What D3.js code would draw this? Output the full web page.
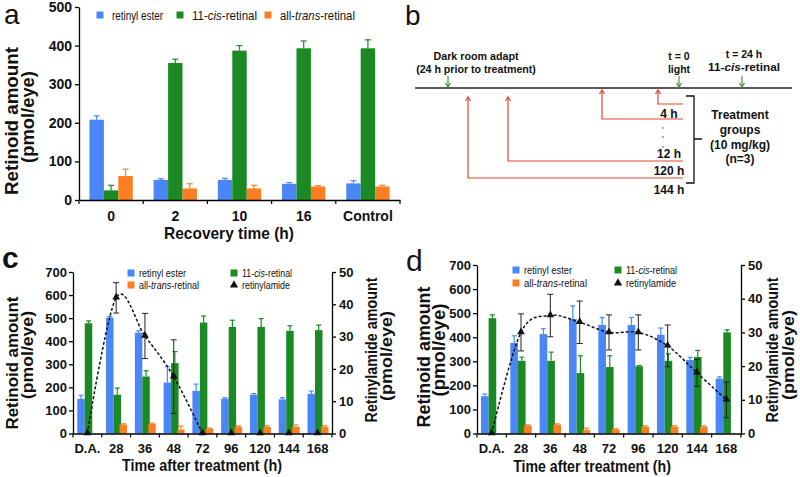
<!DOCTYPE html>
<html>
<head>
<meta charset="utf-8">
<script src="https://cdn.jsdelivr.net/npm/d3@7"></script>
<style>
body { margin: 0; background: #fff; }
svg { display: block; font-family: "Liberation Sans", Arial, Helvetica, sans-serif; }
</style>
</head>
<body>
<script>
const width = 800;
const height = 477;

const blue = "#4a86f5";
const green = "#1c8a24";
const orange = "#fb7f22";

// panel a : recovery data
const recoveryCats = ["0", "2", "10", "16", "Control"];
const esterA = [208, 52, 52, 42, 43];
const esterAErr = [10, 3, 4, 3, 7];
const cisA = [25, 355, 387, 393, 393];
const cisAErr = [13, 10, 13, 19, 22];
const transA = [62, 30, 30, 35, 35];
const transAErr = [18, 12, 8, 2, 3];

// panels c and d : time after treatment
const timeCats = ["D.A.", "28", "36", "48", "72", "96", "120", "144", "168"];
const esterC = [150, 502, 437, 221, 185, 151, 168, 148, 172];
const esterCErr = [16, 5, 8, 69, 29, 4, 5, 7, 12];
const cisC = [478, 168, 247, 305, 481, 462, 462, 445, 448];
const cisCErr = [10, 29, 25, 50, 28, 29, 36, 22, 22];
const transC = [0, 39, 42, 17, 21, 29, 29, 29, 29];
const transCErr = [0, 3, 3, 15, 3, 4, 5, 8, 5];
const amideC = [0, 42, 30.2, 17.6, 0, 0, 0, 0, 0];
const amideCErr = [0, 4.7, 7, 11.4, 0, 0, 0, 0, 0];

const esterD = [155, 376, 413, 476, 451, 451, 410, 306, 228];
const esterDErr = [9, 30, 22, 54, 31, 31, 28, 10, 7];
const cisD = [479, 302, 302, 251, 276, 279, 302, 318, 420];
const cisDErr = [14, 15, 36, 72, 47, 3, 29, 27, 11];
const transD = [0, 33, 37, 14, 17, 28, 28, 28, 0];
const transDErr = [0, 3, 3, 8, 3, 4, 4, 4, 0];
const amideD = [0, 30, 35, 33, 30, 30, 26, 18, 10];
const amideDErr = [0, 5.5, 6.3, 6.3, 5.2, 5.2, 6.2, 4, 5.3];

// panel b : schematic
const treatHours = [4, 12, 120, 144];
const treatLabels = ["4 h", "12 h", "120 h", "144 h"];

const svg = d3.select("body").append("svg")
    .attr("width", width)
    .attr("height", height);

// text helper, "|" toggles italic; len squeezes the text along its direction
function txt(g, s, x, y, o = {}) {
    const t = g.append("text")
        .attr("x", 0).attr("y", 0)
        .attr("font-size", o.size || 12)
        .attr("font-weight", o.bold ? "bold" : "normal")
        .attr("text-anchor", o.anchor || "start")
        .attr("fill", "#111");
    s.split("|").forEach((p, i) => {
        if (p) t.append("tspan").text(p).attr("font-style", i % 2 ? "italic" : null);
    });
    let k = 1;
    if (o.len) k = o.len / t.node().getComputedTextLength();
    t.attr("transform", `translate(${x},${y})${o.rot ? " rotate(-90)" : ""} scale(${k.toFixed(3)},1)`);
    return t;
}

function barPanel(o) {
    const g = svg.append("g");
    const x = d3.scaleBand().domain(o.cats).range([o.left, o.right]);
    const y = d3.scaleLinear().domain([0, o.yMax]).range([o.bottom, o.top]);
    const bw = x.bandwidth();
    const w = bw * o.barFrac;

    o.series.forEach(s => {
        const cx = (d, i) => x(o.cats[i]) + bw / 2 + s.off * w;
        g.selectAll(null).data(s.vals).enter().append("rect")
            .attr("x", cx)
            .attr("y", d => y(d))
            .attr("width", w)
            .attr("height", d => y(0) - y(d))
            .attr("fill", s.color);
        // upward error bars
        s.vals.forEach((v, i) => {
            if (!s.errs[i]) return;
            const xm = cx(v, i) + w / 2;
            g.append("line").attr("x1", xm).attr("x2", xm)
                .attr("y1", y(v)).attr("y2", y(v + s.errs[i]))
                .attr("stroke", s.color).attr("stroke-width", 1.2);
            g.append("line").attr("x1", xm - o.cap).attr("x2", xm + o.cap)
                .attr("y1", y(v + s.errs[i])).attr("y2", y(v + s.errs[i]))
                .attr("stroke", s.color).attr("stroke-width", 1.2);
        });
    });

    // left axis
    const ya = g.append("g").attr("transform", `translate(${o.left},0)`)
        .call(d3.axisLeft(y).tickValues(d3.range(0, o.yMax + 1, o.step))
            .tickSize(4).tickSizeOuter(0).tickPadding(o.yPad));
    // bottom axis
    const xa = g.append("g").attr("transform", `translate(0,${o.bottom})`)
        .call(d3.axisBottom(x).tickSize(0).tickSizeOuter(0).tickPadding(o.xPad));
    d3.range(o.cats.length + 1).forEach(i => {
        const xx = o.left + i * x.step();
        g.append("line").attr("x1", xx).attr("x2", xx)
            .attr("y1", o.bottom).attr("y2", o.bottom + 4)
            .attr("stroke", "#000").attr("stroke-width", 1.2);
    });
    [ya, xa].forEach(a => {
        a.selectAll("path, line").attr("stroke", "#000").attr("stroke-width", 1.3);
        a.selectAll("text").attr("font-size", o.tickSize).attr("font-weight", "bold")
            .attr("font-family", null).attr("fill", "#111");
    });

    if (o.amide) {
        const y2 = d3.scaleLinear().domain([0, 50]).range([o.bottom, o.top]);
        const ra = g.append("g").attr("transform", `translate(${o.right},0)`)
            .call(d3.axisRight(y2).tickValues(d3.range(0, 51, 10))
                .tickSize(4).tickSizeOuter(0).tickPadding(3));
        ra.selectAll("path, line").attr("stroke", "#000").attr("stroke-width", 1.3);
        ra.selectAll("text").attr("font-size", o.tickSize).attr("font-weight", "bold")
            .attr("font-family", null).attr("fill", "#111");

        const pts = o.amide.map((v, i) => [x(o.cats[i]) + bw / 2, y2(v)]);
        const n = o.lineTo || pts.length;
        g.append("path")
            .attr("d", d3.line().curve(d3.curveCardinal.tension(0))(pts.slice(0, n)))
            .attr("fill", "none").attr("stroke", "#111")
            .attr("stroke-width", 1.5).attr("stroke-dasharray", "3,2");
        o.amide.forEach((v, i) => {
            const e = o.amideErr[i];
            if (!e) return;
            const xm = pts[i][0];
            g.append("line").attr("x1", xm).attr("x2", xm)
                .attr("y1", y2(v - e)).attr("y2", y2(v + e))
                .attr("stroke", "#222").attr("stroke-width", 1);
            [v - e, v + e].forEach(t => {
                g.append("line").attr("x1", xm - 3).attr("x2", xm + 3)
                    .attr("y1", y2(t)).attr("y2", y2(t))
                    .attr("stroke", "#222").attr("stroke-width", 1);
            });
        });
        g.selectAll(null).data(pts).enter().append("path")
            .attr("d", d3.symbol(d3.symbolTriangle, 26))
            .attr("transform", d => `translate(${d[0]},${d[1] - 0.5})`)
            .attr("fill", "#111");
    }
    return g;
}

// ---------- panel a ----------
const ga = barPanel({
    cats: recoveryCats, left: 79, right: 400, top: 7, bottom: 200,
    yMax: 500, step: 100, barFrac: 0.225, cap: 3, yPad: 3, xPad: 11, tickSize: 14,
    series: [
        { vals: esterA, errs: esterAErr, color: blue, off: -1.5 },
        { vals: cisA, errs: cisAErr, color: green, off: -0.5 },
        { vals: transA, errs: transAErr, color: orange, off: 0.5 }
    ]
});
txt(ga, "a", 4, 24, { size: 28 });
txt(ga, "Retinoid amount", 18, 121, { size: 18, bold: true, anchor: "middle", rot: true, len: 148 });
txt(ga, "(pmol/eye)", 34, 117, { size: 18, bold: true, anchor: "middle", rot: true, len: 92 });
txt(ga, "Recovery time (h)", 229, 239, { size: 17, bold: true, anchor: "middle", len: 130 });
[[blue, 100, "retinyl ester", 51], [green, 180, "11-|cis|-retinal", 65], [orange, 268, "all-|trans|-retinal", 75]]
    .forEach(([c, lx, s, l]) => {
        ga.append("rect").attr("x", lx - 3.5).attr("y", 11.5).attr("width", 7).attr("height", 7).attr("fill", c);
        txt(ga, s, lx + 12, 19.5, { size: 13, len: l });
    });

// ---------- panel c ----------
const gc = barPanel({
    cats: timeCats, left: 73, right: 332, top: 272, bottom: 433.5,
    yMax: 700, step: 100, barFrac: 0.26, cap: 2.5, yPad: 2, xPad: 10, tickSize: 13,
    series: [
        { vals: esterC, errs: esterCErr, color: blue, off: -1.35 },
        { vals: cisC, errs: cisCErr, color: green, off: -0.35 },
        { vals: transC, errs: transCErr, color: orange, off: 0.45 }
    ],
    amide: amideC, amideErr: amideCErr, lineTo: 5
});
txt(gc, "c", 2, 268, { size: 30, bold: true });
txt(gc, "Retinoid amount", 18, 363, { size: 17, bold: true, anchor: "middle", rot: true, len: 133 });
txt(gc, "(pmol/eye)", 33, 355, { size: 17, bold: true, anchor: "middle", rot: true, len: 88 });
txt(gc, "Retinylamide amount", 377, 350, { size: 17, bold: true, anchor: "middle", rot: true, len: 145 });
txt(gc, "(pmol/eye)", 392, 356, { size: 17, bold: true, anchor: "middle", rot: true, len: 90 });
txt(gc, "Time after treatment (h)", 202, 471, { size: 17, bold: true, anchor: "middle", len: 160 });

// ---------- panel d ----------
const gd = barPanel({
    cats: timeCats, left: 477, right: 741, top: 265, bottom: 433.5,
    yMax: 700, step: 100, barFrac: 0.26, cap: 2.5, yPad: 2, xPad: 10, tickSize: 13,
    series: [
        { vals: esterD, errs: esterDErr, color: blue, off: -1.4 },
        { vals: cisD, errs: cisDErr, color: green, off: -0.4 },
        { vals: transD, errs: transDErr, color: orange, off: 0.4 }
    ],
    amide: amideD, amideErr: amideDErr
});
txt(gd, "d", 406, 271, { size: 30 });
txt(gd, "Retinoid amount", 430, 357, { size: 18, bold: true, anchor: "middle", rot: true, len: 141 });
txt(gd, "(pmol/eye)", 445, 350, { size: 18, bold: true, anchor: "middle", rot: true, len: 93 });
txt(gd, "Retinylamide amount", 778, 350, { size: 17, bold: true, anchor: "middle", rot: true, len: 145 });
txt(gd, "(pmol/eye)", 794, 355, { size: 17, bold: true, anchor: "middle", rot: true, len: 90 });
txt(gd, "Time after treatment (h)", 592, 472, { size: 17, bold: true, anchor: "middle", len: 158 });

// legends c / d
function cdLegend(g, x1, x2, y1, y2, lens) {
    const items = [
        [blue, x1, y1, "retinyl ester", lens[0], "rect"],
        [green, x2, y1, "11-|cis|-retinal", lens[1], "rect"],
        [orange, x1, y2, "all-|trans|-retinal", lens[2], "rect"],
        ["#111", x2, y2, "retinylamide", lens[3], "tri"]
    ];
    items.forEach(([c, lx, ly, s, l, k]) => {
        if (k === "rect") {
            g.append("rect").attr("x", lx - 3.5).attr("y", ly - 3.5).attr("width", 7).attr("height", 7).attr("fill", c);
        } else {
            g.append("path").attr("d", d3.symbol(d3.symbolTriangle, 30))
                .attr("transform", `translate(${lx},${ly})`).attr("fill", c);
        }
        txt(g, s, lx + 8, ly + 4, { size: 10.4, len: l });
    });
}
cdLegend(gc, 131, 234, 273, 285, [47, 50, 60, 48]);
cdLegend(gd, 516, 618, 270, 283, [48, 51, 63, 50]);

// ---------- panel b ----------
const gb = svg.append("g");
// schematic time axis (hours relative to light exposure)
const tx = d3.scaleLinear()
    .domain([-168, -144, -120, -12, -4, 0, 24])
    .range([448, 468, 508, 602, 658, 679, 742]);
const lineY = 88;
txt(gb, "b", 405, 25, { size: 28 });
gb.append("line").attr("x1", 415).attr("x2", 792).attr("y1", lineY).attr("y2", lineY)
    .attr("stroke", "#222").attr("stroke-width", 1.6);

const events = [
    { h: -168, dx: 28, lines: ["Dark room adapt", "(24 h prior to treatment)"], lens: [85, 120] },
    { h: 0, dx: 0, lines: ["t = 0", "light"], lens: [null, null] },
    { h: 24, dx: 2, lines: ["t = 24 h", "11-|cis|-retinal"], lens: [null, 72] }
];
events.forEach(e => {
    const xx = tx(e.h);
    gb.append("line").attr("x1", xx).attr("x2", xx).attr("y1", 76).attr("y2", lineY - 1)
        .attr("stroke", "#2f8f2f").attr("stroke-width", 1.1);
    gb.append("path").attr("d", `M${xx - 2.5},${lineY - 5} L${xx},${lineY - 1} L${xx + 2.5},${lineY - 5}`)
        .attr("fill", "none").attr("stroke", "#2f8f2f").attr("stroke-width", 1.1);
    const base = e.h === 24 ? 58 : 60;
    e.lines.forEach((s, i) => {
        txt(gb, s, xx + e.dx, base + i * 12.5, { size: 10.5, bold: true, anchor: "middle", len: e.lens[i] });
    });
});

const armY = [104, 119, 161, 178];
const tipY = [90, 90, 97, 97];
const labY = [118, 158, 175, 194];
const red = "#e8452f";
treatHours.forEach((h, i) => {
    const xx = tx(-h);
    gb.append("path").attr("d", `M683,${armY[i]} H${xx} V${tipY[i]}`)
        .attr("fill", "none").attr("stroke", red).attr("stroke-width", 1.2);
    gb.append("path").attr("d", `M${xx - 2.5},${tipY[i] + 4} L${xx},${tipY[i]} L${xx + 2.5},${tipY[i] + 4}`)
        .attr("fill", "none").attr("stroke", red).attr("stroke-width", 1.2);
    txt(gb, treatLabels[i], 669, labY[i], { size: 12, bold: true, anchor: "middle" });
});
[128, 137, 147].forEach(yy => {
    gb.append("circle").attr("cx", 663).attr("cy", yy).attr("r", 0.8).attr("fill", "#444");
});
gb.append("path").attr("d", "M686,96 H694 V183 H686 M694,139 H702")
    .attr("fill", "none").attr("stroke", "#111").attr("stroke-width", 1.3);
["Treatment", "groups", "(10 mg/kg)", "(n=3)"].forEach((s, i) => {
    txt(gb, s, 740, 119 + i * 14.8, { size: 12, bold: true, anchor: "middle" });
});
</script>
</body>
</html>
